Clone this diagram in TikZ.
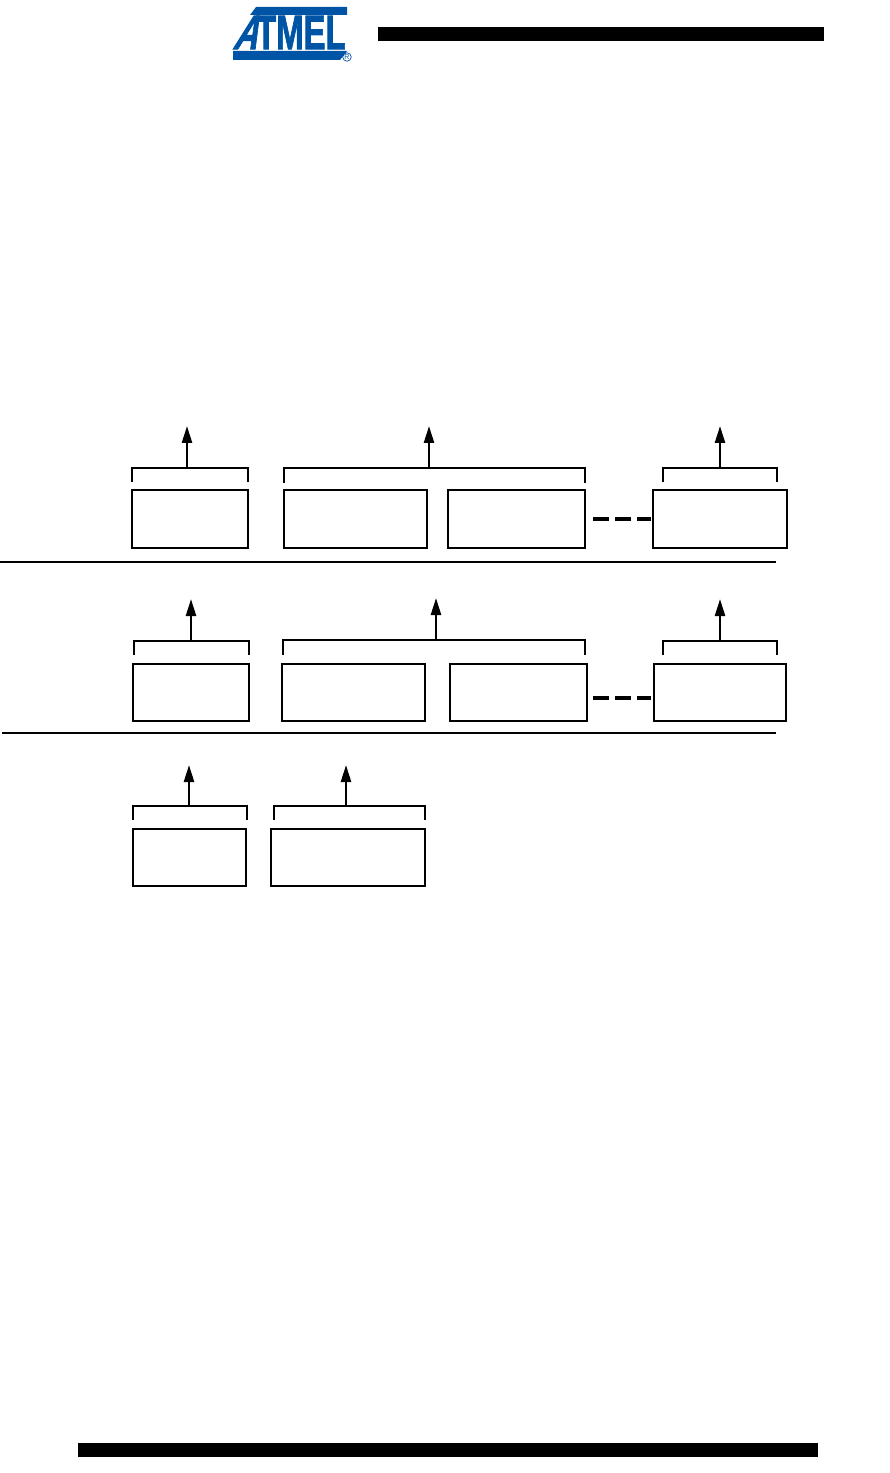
\documentclass[tikz,border=0pt]{standalone}
\usepackage{fontspec}
\setmainfont{Liberation Sans}
\newfontfamily\logofont[FakeBold=2]{Liberation Sans Bold}
\newfontfamily\logoslant[FakeBold=2,FakeSlant=0.55]{Liberation Sans Bold}
\usetikzlibrary{arrows.meta}
\definecolor{logoblue}{RGB}{0,84,166}
\tikzset{
  regbox/.style={draw=black,line width=0.05cm,anchor=north west,inner sep=0pt,outer sep=0pt,minimum height=1.16cm},
  brace/.style={draw=black,line width=0.04cm},
  uparrow/.style={draw=black,line width=0.05cm,-{Triangle[length=0.34cm,width=0.2cm]}},
  rule/.style={draw=black,line width=0.05cm},
  gapdash/.style={draw=black,line width=0.09cm,dash pattern=on 0.32cm off 0.12cm},
  logoname/.style={text=logoblue,font=\logofont\fontsize{24}{24}\selectfont,inner sep=0pt}
}
\begin{document}
\begin{tikzpicture}[x=0.02cm,y=0.02cm]
\useasboundingbox (0,0) rectangle (889,-1473);
\fill [black] (378,-27) rectangle (824,-41);
\fill [black] (78,-1443) rectangle (818,-1457);
\fill [logoblue] (256,-7) -- (347,-7) -- (347,-15) -- (250,-15) -- cycle;
\fill [logoblue] (233,-51) -- (347,-51) -- (340,-60) -- (233,-60) -- cycle;
\node [logoname] (logotext) at (289,-32.5) {\scalebox{0.78}[1.14]{{\logoslant A}TMEL}};
\node [draw=logoblue,circle,inner sep=0.3pt,text=logoblue,font=\fontsize{4}{4}\selectfont] (logomark) at (347,-57) {R};
% first row
\node [regbox,minimum width=2.32cm] (a1) at (132,-490) {};
\node [regbox,minimum width=2.86cm] (a2) at (284,-490) {};
\node [regbox,minimum width=2.74cm] (a3) at (448,-490) {};
\node [regbox,minimum width=2.68cm] (a4) at (653,-490) {};
\coordinate (b1) at (187,-468);
\coordinate (t1) at (187,-426);
\coordinate (b2) at (429,-468);
\coordinate (t2) at (429,-426);
\coordinate (b3) at (720,-468);
\coordinate (t3) at (720,-426);
\draw [brace] (132,-482) -- (132,-468) -- (248,-468) -- (248,-482);
\draw [brace] (284,-483) -- (284,-468) -- (585,-468) -- (585,-483);
\draw [brace] (663,-482) -- (663,-468) -- (777,-468) -- (777,-482);
\draw [uparrow] (b1) -- (t1);
\draw [uparrow] (b2) -- (t2);
\draw [uparrow] (b3) -- (t3);
\coordinate (d1) at (593,-519);
\coordinate (e1) at (651,-519);
\draw [gapdash] (d1) -- (e1);
\coordinate (r1) at (0,-562);
\coordinate (s1) at (776,-562);
\draw [rule] (r1) -- (s1);
% second row
\node [regbox,minimum width=2.32cm,minimum height=1.14cm] (c1) at (133,-664) {};
\node [regbox,minimum width=2.86cm,minimum height=1.14cm] (c2) at (282,-664) {};
\node [regbox,minimum width=2.74cm,minimum height=1.14cm] (c3) at (450,-664) {};
\node [regbox,minimum width=2.64cm,minimum height=1.14cm] (c4) at (654,-664) {};
\coordinate (f1) at (191,-641);
\coordinate (g1) at (191,-599);
\coordinate (f2) at (436,-640);
\coordinate (g2) at (436,-598);
\coordinate (f3) at (720,-641);
\coordinate (g3) at (720,-599);
\draw [brace] (134,-655) -- (134,-641) -- (249,-641) -- (249,-655);
\draw [brace] (283,-655) -- (283,-640) -- (585,-640) -- (585,-655);
\draw [brace] (663,-655) -- (663,-641) -- (777,-641) -- (777,-655);
\draw [uparrow] (f1) -- (g1);
\draw [uparrow] (f2) -- (g2);
\draw [uparrow] (f3) -- (g3);
\coordinate (d2) at (593,-698);
\coordinate (e2) at (651,-698);
\draw [gapdash] (d2) -- (e2);
\coordinate (r2) at (2,-733);
\coordinate (s2) at (776,-733);
\draw [rule] (r2) -- (s2);
% third row
\node [regbox,minimum width=2.26cm,minimum height=1.14cm] (k1) at (133,-829) {};
\node [regbox,minimum width=3.08cm,minimum height=1.14cm] (k2) at (271,-829) {};
\coordinate (m1) at (189,-806);
\coordinate (n1) at (189,-765);
\coordinate (m2) at (346,-806);
\coordinate (n2) at (346,-765);
\draw [brace] (133,-820) -- (133,-806) -- (247,-806) -- (247,-820);
\draw [brace] (274,-820) -- (274,-806) -- (425,-806) -- (425,-820);
\draw [uparrow] (m1) -- (n1);
\draw [uparrow] (m2) -- (n2);
\end{tikzpicture}
\end{document}
